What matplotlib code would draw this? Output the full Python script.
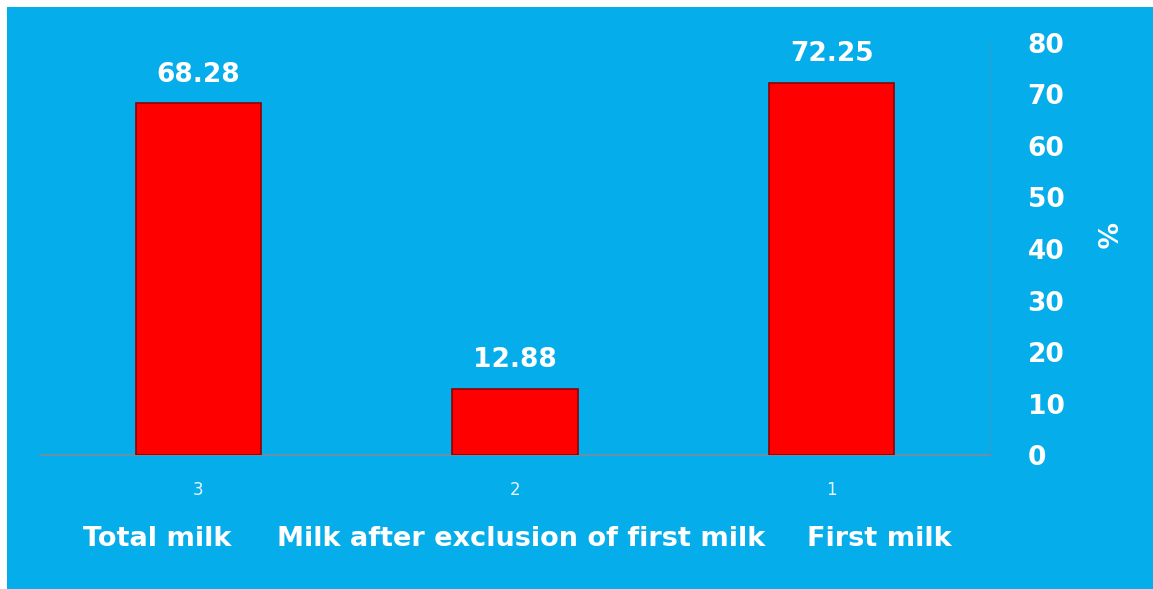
import matplotlib.pyplot as plt
from matplotlib.patches import Rectangle

# Data
categories = ["Total milk", "Milk after exclusion of first milk", "First milk"]
label_pos = [-0.13, 1.02, 2.15]
tick_numbers = ["3", "2", "1"]
values = [68.28, 12.88, 72.25]
yticks = [0, 10, 20, 30, 40, 50, 60, 70, 80]

blue = "#05AEEA"
plt.rcParams["font.family"] = ["DejaVu Sans"]

fig = plt.figure(figsize=(11.53, 5.89), dpi=100)
fig.patch.set_facecolor("white")
# blue panel behind the chart
panel = Rectangle((7 / 1153, 0), 1 - 7 / 1153, 1 - 7 / 589,
                  transform=fig.transFigure, facecolor=blue,
                  edgecolor="none", zorder=-10)
fig.add_artist(panel)

ax = fig.add_axes([0.0347, 0.2275, 0.824, 0.6995])
ax.set_facecolor("none")

x = range(len(values))
bars = ax.bar(x, values, width=0.395, color="#FF0000", edgecolor="#8E0000",
              linewidth=1.2, zorder=3)

for b, v in zip(bars, values):
    ax.text(b.get_x() + b.get_width() / 2, v + 3.0, f"{v:.2f}", ha="center",
            va="bottom", color="white", fontsize=19, fontweight="bold")

ax.set_xlim(-0.5, 2.5)
ax.set_ylim(0, 80)

ax.yaxis.tick_right()
ax.set_yticks(yticks)
ax.set_yticklabels([str(t) for t in yticks], color="white", fontsize=19,
                   fontweight="bold")
ax.tick_params(axis="y", length=0, pad=27)
ax.set_ylabel("%", color="white", fontsize=19, fontweight="bold",
              rotation=270, va="center", ha="center")
ax.yaxis.set_label_coords(1.119, 0.534)

ax.set_xticks(list(x))
ax.set_xticklabels(tick_numbers, color="#E8F6FF", fontsize=12)
ax.tick_params(axis="x", length=0, pad=19)

for p, c in zip(label_pos, categories):
    ax.text(p, -16.3, c, ha="center", va="center", color="white",
            fontsize=19.5, fontweight="bold")

for s in ["top", "left"]:
    ax.spines[s].set_visible(False)
ax.spines["bottom"].set_color("#7A8C99")
ax.spines["bottom"].set_linewidth(1.2)
ax.spines["right"].set_color("#2A9FD6")
ax.spines["right"].set_linewidth(1.0)

fig.savefig("out.png", dpi=100, facecolor=fig.get_facecolor())
